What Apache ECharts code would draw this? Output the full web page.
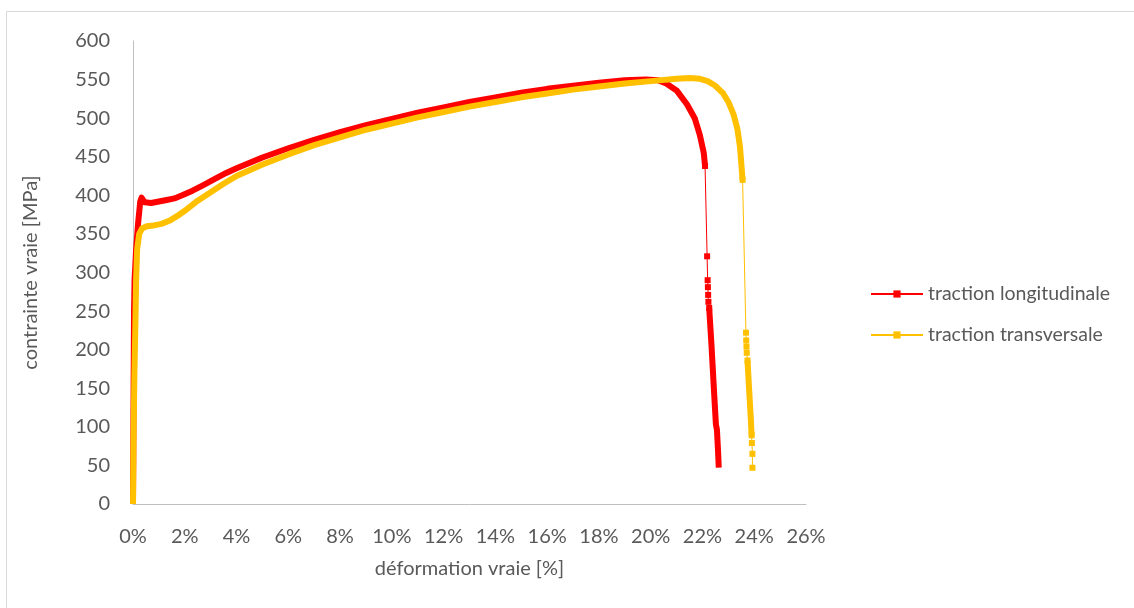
<!DOCTYPE html>
<html>
<head>
<meta charset="utf-8">
<script src="https://cdn.jsdelivr.net/npm/echarts@6/dist/echarts.min.js"></script>
<style>
html,body{margin:0;padding:0;background:#fff;}
#c{width:1134px;height:608px;}
</style>
</head>
<body>
<div id="c"></div>
<script>
// ---- data (strain in %, stress in MPa) ----
var seriesNames = ['traction longitudinale', 'traction transversale'];

// red: continuous (dense) part
var redMain = [[0,0],[0.01,60],[0.025,160],[0.04,250],[0.06,290],[0.12,330],[0.2,365],[0.28,392],[0.33,397],[0.45,391],[0.7,390],[1.0,392],[1.3,394],[1.6,396],[1.9,400],[2.3,406],[2.7,413],[3.2,422],[3.6,429],[4,435],[5,449],[6,461],[7,472],[8,482],[9,491],[10,499],[11,507],[12,514],[13,521],[14,527],[15,533],[16,538],[17,542],[18,546],[19,549],[19.8,550],[20.3,549],[20.6,545],[21.0,536],[21.4,518],[21.7,500],[21.9,478],[22.05,455],[22.1,438]];
// red: sparse points after the drop
var redSparse = [[22.1,438],[22.18,321],[22.2,290],[22.21,281],[22.22,271],[22.23,262],[22.26,254]];
// red: dense tail
var redTail = [[22.26,254],[22.35,205],[22.44,150],[22.52,103],[22.56,96],[22.6,70],[22.63,47]];

// yellow: continuous (dense) part
var yelMain = [[0,0],[0.02,80],[0.05,160],[0.09,230],[0.12,290],[0.16,330],[0.24,350],[0.35,357],[0.53,360],[0.8,361],[1.1,363],[1.4,367],[1.7,373],[2.0,380],[2.5,393],[3,404],[3.5,415],[4,425],[5,440],[6,453],[7,465],[8,475],[9,485],[10,493],[11,501],[12,508],[13,515],[14,521],[15,527],[16,532],[17,537],[18,541],[19,545],[20,548],[21,551],[21.5,552],[21.9,551],[22.2,548],[22.5,542],[22.8,532],[23.0,521],[23.2,505],[23.35,486],[23.45,463],[23.55,420]];
// yellow: sparse points after the drop
var yelSparse = [[23.55,420],[23.68,222],[23.69,212],[23.7,204],[23.71,196],[23.74,186]];
// yellow: dense tail
var yelTail = [[23.74,186],[23.8,150],[23.86,115],[23.9,89]];
// yellow: last isolated points
var yelEnd = [[23.9,89],[23.91,79],[23.93,65],[23.93,47]];

var RED = '#FF0000', YEL = '#FFC000', TXT = '#595959', AX = '#BFBFBF';
var FONT = 'Lato';

function thin(name, data, color, z) {
  return {name:name, type:'line', data:data, z:z, symbol:'rect', symbolSize:6, showSymbol:true,
    itemStyle:{color:color}, lineStyle:{color:color, width:1}, animation:false, silent:true};
}
function thick(name, data, color, z) {
  return {name:name, type:'line', data:data, z:z, showSymbol:false, symbol:'none',
    lineStyle:{color:color, width:6, cap:'butt', join:'round'}, animation:false, silent:true};
}

var chart = echarts.init(document.getElementById('c'), null, {renderer:'canvas'});
chart.setOption({
  backgroundColor:'#fff',
  textStyle:{fontFamily:FONT},
  graphic:[{type:'rect', shape:{x:6.5, y:11.5, width:1300, height:800}, style:{fill:'none', stroke:'#D9D9D9', lineWidth:1}, silent:true, z:-10}],
  grid:{left:133, right:328, top:41, bottom:104},
  legend:{orient:'vertical', left:865, top:279, itemWidth:52, itemHeight:9, itemGap:21,
    textStyle:{fontSize:19.5, color:TXT, fontFamily:FONT}, data:seriesNames, selectedMode:false},
  xAxis:{type:'value', min:0, max:26, interval:2,
    name:'déformation vraie [%]', nameLocation:'middle', nameGap:55,
    nameTextStyle:{fontSize:20, color:TXT, fontFamily:FONT},
    axisLine:{show:true, onZero:false, lineStyle:{color:AX, width:1}},
    axisTick:{show:false}, splitLine:{show:false},
    axisLabel:{formatter:'{value}%', fontSize:20, color:TXT, fontFamily:FONT, margin:23}},
  yAxis:{type:'value', min:0, max:600, interval:50,
    name:'contrainte vraie [MPa]', nameLocation:'middle', nameGap:92,
    nameTextStyle:{fontSize:20, color:TXT, fontFamily:FONT},
    axisLine:{show:true, lineStyle:{color:AX, width:1}},
    axisTick:{show:false}, splitLine:{show:false},
    axisLabel:{fontSize:20, color:TXT, fontFamily:FONT, margin:23}},
  series:[
    thin(seriesNames[0], redSparse, RED, 2),
    thick(seriesNames[0], redMain, RED, 2),
    thick(seriesNames[0], redTail, RED, 2),
    thin(seriesNames[1], yelSparse, YEL, 3),
    thick(seriesNames[1], yelMain, YEL, 3),
    thick(seriesNames[1], yelTail, YEL, 3),
    thin(seriesNames[1], yelEnd, YEL, 3)
  ]
});
</script>
</body>
</html>
